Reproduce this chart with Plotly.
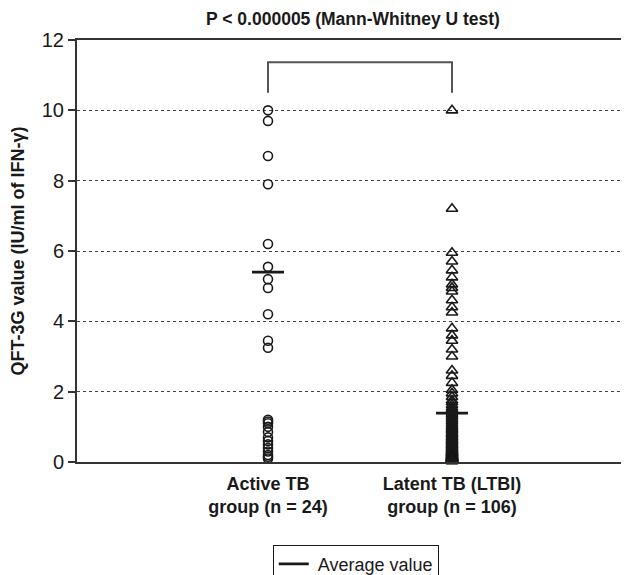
import plotly.graph_objects as go

# ---------------- data ----------------
groups = ["Active TB", "Latent TB (LTBI)"]
group_labels = ["<b>Active TB<br>group (n = 24)</b>", "<b>Latent TB (LTBI)<br>group (n = 106)</b>"]
group_pos = [1, 2]

active_tb = [10.0, 9.7, 8.7, 7.9, 6.2, 5.55, 5.2, 4.95, 4.2, 3.45, 3.25,
             1.2, 1.15, 1.1, 1.0, 0.85, 0.7, 0.6, 0.5, 0.4, 0.3, 0.2, 0.15, 0.1]

latent_tb = [10.0, 7.2, 5.95, 5.7, 5.45, 5.25, 5.05, 4.95, 4.85, 4.6, 4.4, 4.25,
             3.8, 3.6, 3.45, 3.2, 3.0, 2.6, 2.45, 2.25, 2.05, 1.95, 1.85,
             1.75, 1.7, 1.62, 1.55, 1.5, 1.45, 1.4, 1.35, 1.3, 1.25,
             1.2, 1.15, 1.1, 1.05, 1.0, 0.97, 0.93, 0.9, 0.86, 0.82,
             0.8, 0.77, 0.74, 0.7, 0.68, 0.65, 0.62, 0.6, 0.58, 0.55,
             0.52, 0.5, 0.48, 0.46, 0.44, 0.42, 0.4, 0.38, 0.36, 0.35,
             0.33, 0.31, 0.3, 0.28, 0.27, 0.26, 0.25, 0.24, 0.23, 0.22,
             0.21, 0.2, 0.19, 0.18, 0.17, 0.16, 0.15, 0.15, 0.14, 0.14,
             0.13, 0.13, 0.12, 0.12, 0.11, 0.11, 0.1, 0.1, 0.1, 0.09,
             0.09, 0.08, 0.08, 0.08, 0.07, 0.07, 0.06, 0.06, 0.05, 0.05,
             0.04, 0.03, 0.02]

average_values = [5.4, 1.39]
bracket_y = [10.5, 11.37]
y_ticks = [0, 2, 4, 6, 8, 10, 12]

# ---------------- figure ----------------
FONT = "Liberation Sans, Arial, sans-serif"
INK = "#1a1a1a"
half_w = 0.087
W, H = 621, 567  # page body has an 8px default margin

fig = go.Figure()

fig.add_trace(go.Scatter(
    x=[group_pos[0]] * len(active_tb), y=active_tb, mode="markers",
    marker=dict(symbol="circle-open", size=9, color=INK, line=dict(width=1.6, color=INK)),
    showlegend=False, cliponaxis=False))

fig.add_trace(go.Scatter(
    x=[group_pos[1]] * len(latent_tb), y=latent_tb, mode="markers",
    marker=dict(symbol="triangle-up-open", size=10, color=INK, line=dict(width=1.6, color=INK)),
    showlegend=False, cliponaxis=False))

mx, my = [], []
for p, v in zip(group_pos, average_values):
    mx += [p - half_w, p + half_w, None]
    my += [v, v, None]
fig.add_trace(go.Scatter(
    x=mx, y=my, mode="lines", line=dict(color=INK, width=2.8),
    name=" Average value", showlegend=True))

# significance bracket
fig.add_shape(type="path", xref="x", yref="y",
              path=f"M {group_pos[0]} {bracket_y[0]} L {group_pos[0]} {bracket_y[1]} "
                   f"L {group_pos[1]} {bracket_y[1]} L {group_pos[1]} {bracket_y[0]}",
              line=dict(color="#555555", width=2))

fig.update_layout(
    width=W, height=H,
    margin=dict(l=69, r=0, t=32, b=113, autoexpand=False),
    paper_bgcolor="white", plot_bgcolor="white",
    font=dict(family=FONT, color=INK),
    title=dict(text="<b>P < 0.000005 (Mann-Whitney U test)</b>",
               x=0.5, xref="paper", xanchor="center",
               y=1 - 10.5 / H, yref="container", yanchor="middle",
               font=dict(size=17.5, family=FONT, color=INK)),
    legend=dict(orientation="h", x=0.505, xanchor="center", xref="paper",
                y=-0.196, yanchor="top",
                bordercolor=INK, borderwidth=1, bgcolor="white",
                font=dict(size=18, family=FONT, color=INK),
                itemwidth=30),
    showlegend=True,
)

fig.update_xaxes(
    range=[1 - (268 - 77) / 184, 1 + (629 - 268) / 184],
    tickvals=group_pos, ticktext=group_labels,
    tickfont=dict(size=18, family=FONT, color=INK),
    showgrid=False, zeroline=False,
    showline=True, linecolor="#333333", linewidth=2, mirror=True,
    ticks="", fixedrange=True, automargin=False, ticklabelstandoff=4,
)

fig.update_yaxes(
    range=[0, 12], tickvals=y_ticks,
    tickfont=dict(size=20, family=FONT, color=INK),
    showgrid=True, gridcolor="#444444", gridwidth=1, griddash="dot",
    zeroline=False, automargin=False,
    showline=True, linecolor="#333333", linewidth=2,
    ticks="outside", ticklen=7, tickwidth=1.5, tickcolor="#333333",
    title=dict(text="<b>QFT-3G value (IU/ml of IFN-γ)</b>",
               font=dict(size=18, family=FONT, color=INK), standoff=14),
)

fig.write_html("out.html")
